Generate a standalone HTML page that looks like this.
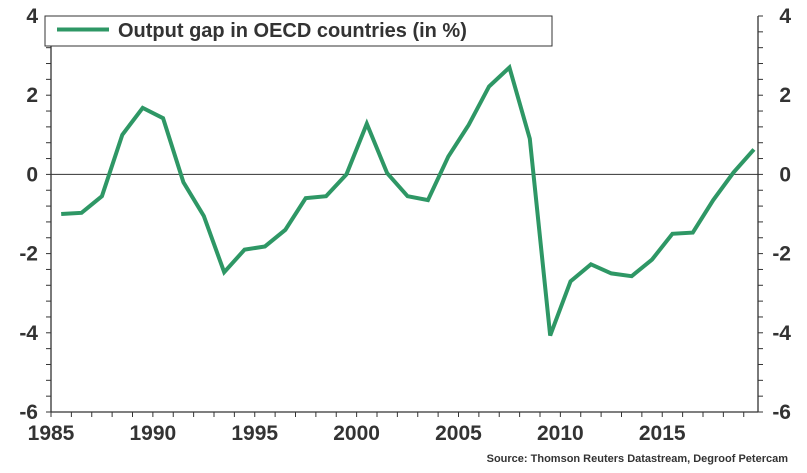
<!DOCTYPE html>
<html><head><meta charset="utf-8"><style>
body{margin:0;background:#fff;}
svg{display:block;font-family:"Liberation Sans",Arial,sans-serif;}
</style></head><body>
<svg id="chart" width="807" height="473" viewBox="0 0 807 473"></svg>
<script>
const years=[1985.5,1986.5,1987.5,1988.5,1989.5,1990.5,1991.5,1992.5,1993.5,1994.5,1995.5,1996.5,1997.5,1998.5,1999.5,2000.5,2001.5,2002.5,2003.5,2004.5,2005.5,2006.5,2007.5,2008.5,2009.5,2010.5,2011.5,2012.5,2013.5,2014.5,2015.5,2016.5,2017.5,2018.5,2019.5];
const gap=[-1.0,-0.97,-0.55,1.0,1.68,1.42,-0.2,-1.05,-2.47,-1.9,-1.82,-1.4,-0.6,-0.55,0,1.28,0.03,-0.55,-0.65,0.45,1.25,2.22,2.7,0.9,-4.07,-2.7,-2.27,-2.5,-2.57,-2.15,-1.5,-1.47,-0.65,0.05,0.63];
const yTicks=[4,2,0,-2,-4,-6];
const xTicks=[1985,1990,1995,2000,2005,2010,2015];
const NS="http://www.w3.org/2000/svg";
const svg=document.getElementById('chart');
const L=51,R=758,T=16,B=412;
const x=v=>L+(v-1985)*(R-L)/(2019.7-1985);
const y=v=>T+(4-v)*(B-T)/10;
function mk(tag,at,parent){const e=document.createElementNS(NS,tag);for(const k in at)e.setAttribute(k,at[k]);(parent||svg).appendChild(e);return e;}
let e;
e=mk('line',{x1:L,y1:T,x2:L,y2:B,stroke:'#333','stroke-width':1.3});


e=mk('line',{x1:R,y1:T,x2:R,y2:B,stroke:'#333','stroke-width':1.3});


e=mk('line',{x1:L,y1:B,x2:R,y2:B,stroke:'#333','stroke-width':1.3});


e=mk('line',{x1:L,y1:y(0),x2:R,y2:y(0),stroke:'#333','stroke-width':1});


for(let v=-6;v<=4.001;v+=0.4){
  e=mk('line',{x1:L-5,y1:y(v),x2:L,y2:y(v),stroke:'#333','stroke-width':1});
  
  
  e=mk('line',{x1:R,y1:y(v),x2:R+5,y2:y(v),stroke:'#333','stroke-width':1});
  
  
}
yTicks.forEach(v=>{
  e=mk('text',{x:L-13,y:y(v)+7,'text-anchor':'end','font-size':21,'font-weight':'bold',fill:'#333'});
  e.textContent=v;
  
  
  e=mk('text',{x:R+33,y:y(v)+7,'text-anchor':'end','font-size':21,'font-weight':'bold',fill:'#333'});
  e.textContent=v;
  
  
});
for(let yr=1985;yr<=2019;yr++){
  e=mk('line',{x1:x(yr),y1:B,x2:x(yr),y2:B+5,stroke:'#333','stroke-width':1});
  
  
}
xTicks.forEach(v=>{
  e=mk('text',{x:x(v)-22,y:B+28,'text-anchor':'middle','font-size':21,'font-weight':'bold',fill:'#333'});
  e.setAttribute('x',x(v));
  e.textContent=v;
  
  
});
e=mk('polyline',{points:years.map((v,i)=>x(v)+','+y(gap[i])).join(' '),fill:'none',stroke:'#2e9765','stroke-width':4,'stroke-linejoin':'miter'});


const g=mk('g',{});


e=mk('rect',{x:45,y:16,width:507,height:30,fill:'#fff',stroke:'#333','stroke-width':1},g);


e=mk('line',{x1:57,y1:29.5,x2:109,y2:29.5,stroke:'#2e9765','stroke-width':4},g);


e=mk('text',{x:118,y:37,'font-size':20,'font-weight':'bold',fill:'#333'},g);
e.textContent='Output gap in OECD countries (in %)';


e=mk('text',{x:788,y:462,'text-anchor':'end','font-size':11,'font-weight':'bold',fill:'#333'});
e.textContent='Source: Thomson Reuters Datastream, Degroof Petercam';


</script>
</body></html>
